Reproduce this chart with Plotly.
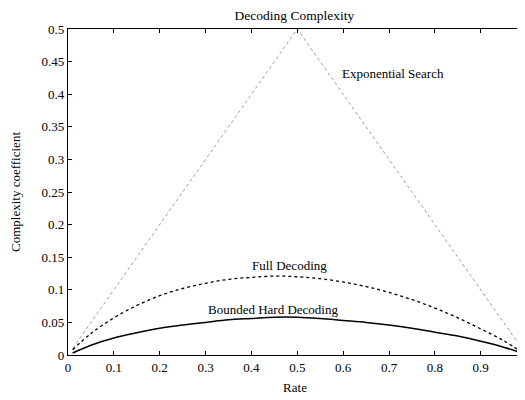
import plotly.graph_objects as go

rate = [0.01, 0.05, 0.1, 0.15, 0.2, 0.25, 0.3, 0.35, 0.4, 0.45, 0.5,
        0.55, 0.6, 0.65, 0.7, 0.75, 0.8, 0.85, 0.9, 0.95, 0.99]
full_decoding = [0.008, 0.033, 0.057, 0.076, 0.091, 0.102, 0.110, 0.116, 0.119, 0.121, 0.120,
                 0.117, 0.112, 0.105, 0.096, 0.085, 0.072, 0.057, 0.040, 0.022, 0.004]
bounded_hard = [0.003, 0.015, 0.026, 0.034, 0.041, 0.046, 0.050, 0.054, 0.056, 0.058, 0.058,
                0.056, 0.053, 0.050, 0.046, 0.041, 0.035, 0.029, 0.021, 0.012, 0.003]
exp_rate = [0.01, 0.5, 0.99]
exp_search = [0.01, 0.5, 0.01]

x_ticks = [0, 0.1, 0.2, 0.3, 0.4, 0.5, 0.6, 0.7, 0.8, 0.9]
x_tick_labels = ["0", "0.1", "0.2", "0.3", "0.4", "0.5", "0.6", "0.7", "0.8", "0.9"]
y_ticks = [0, 0.05, 0.1, 0.15, 0.2, 0.25, 0.3, 0.35, 0.4, 0.45, 0.5]
y_tick_labels = ["0", "0.05", "0.1", "0.15", "0.2", "0.25", "0.3", "0.35", "0.4", "0.45", "0.5"]

FONT = "Liberation Serif"
FS = 13

fig = go.Figure()
fig.add_trace(go.Scatter(x=exp_rate, y=exp_search, mode="lines",
                         line=dict(color="#9a9a9a", width=1, dash="dot"),
                         name="Exponential Search"))
fig.add_trace(go.Scatter(x=rate, y=full_decoding, mode="lines",
                         line=dict(color="black", width=1.3, dash="3px,3px", shape="spline"),
                         name="Full Decoding"))
fig.add_trace(go.Scatter(x=rate, y=bounded_hard, mode="lines",
                         line=dict(color="black", width=1.5, shape="spline"),
                         name="Bounded Hard Decoding"))

annots = [
    dict(x=0.483, y=0.138, text="Full Decoding"),
    dict(x=0.446, y=0.0695, text="Bounded Hard Decoding"),
    dict(x=0.708, y=0.431, text="Exponential Search"),
]
for a in annots:
    fig.add_annotation(x=a["x"], y=a["y"], text=a["text"], showarrow=False,
                       font=dict(family=FONT, size=FS, color="black"))

axis_common = dict(showgrid=False, zeroline=False, showline=True, linecolor="black",
                   linewidth=1.2, mirror="ticks", ticks="inside", ticklen=4,
                   tickcolor="black", tickfont=dict(family=FONT, size=FS, color="black"))

fig.update_xaxes(range=[0, 0.99], tickvals=x_ticks, ticktext=x_tick_labels,
                 title=dict(text="Rate", font=dict(family=FONT, size=FS, color="black"), standoff=9),
                 **axis_common)
fig.update_yaxes(range=[0, 0.5], tickvals=y_ticks, ticktext=y_tick_labels,
                 title=dict(text="Complexity coefficient", font=dict(family=FONT, size=FS, color="black"), standoff=22),
                 **axis_common)

fig.update_layout(
    width=517, height=392,
    margin=dict(l=59, r=2, t=21, b=45),
    paper_bgcolor="white", plot_bgcolor="white",
    showlegend=False,
    title=dict(text="Decoding Complexity", x=0.554, xanchor="center", y=0.982, yanchor="middle",
               font=dict(family=FONT, size=13.5, color="black")),
)

fig.write_html("out.html")
